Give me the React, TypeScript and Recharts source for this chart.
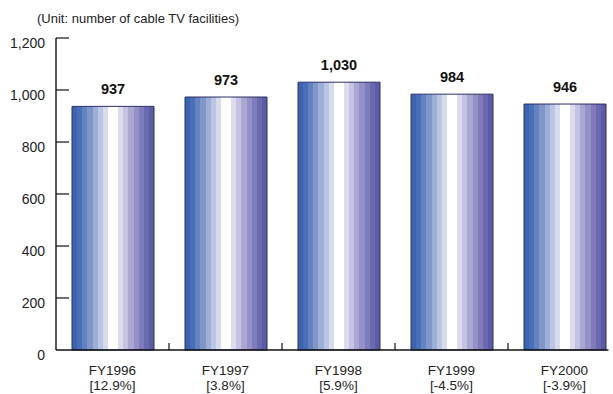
import { Bar, BarChart, LabelList, XAxis, YAxis } from "recharts"

const years = ["FY1996", "FY1997", "FY1998", "FY1999", "FY2000"]
const growth = ["[12.9%]", "[3.8%]", "[5.9%]", "[-4.5%]", "[-3.9%]"]
const facilities = [937, 973, 1030, 984, 946]
const yTicks = [0, 200, 400, 600, 800, 1000, 1200]

const data = years.map((year, i) => ({ year, growth: growth[i], value: facilities[i] }))

// horizontal stripes, left to right
const stripes = [
  "#3a64b2", "#4a6fb6", "#6382c0", "#7f96c9", "#9dafd6", "#bac6e3", "#d5dcee",
  "#ffffff", "#ffffff",
  "#dcdcee", "#c4c3e1", "#aaa8d3", "#9391c6", "#7e7cba", "#6b69af", "#5c5ba6",
]

const BAND = 113
const font = "'Liberation Sans', Arial, sans-serif"

const fmt = (v: number) => v.toLocaleString("en-US")

const XTick = (props: any) => {
  const { x, y, payload, index } = props
  const last = index === years.length - 1
  const d = data[index] || data.find((r) => r.year === payload.value)
  return (
    <g>
      <line x1={x - BAND / 2} x2={last ? x + 44 : x + BAND / 2} y1={y} y2={y} stroke="#111" strokeWidth={1.4} />
      {!last && <line x1={x + BAND / 2} x2={x + BAND / 2} y1={y} y2={y - 7} stroke="#111" strokeWidth={1.2} />}
      <text x={x} y={y + 25} textAnchor="middle" fontSize={13.5} fill="#222" fontFamily={font}>
        {payload.value}
      </text>
      <text x={x} y={y + 40} textAnchor="middle" fontSize={13.5} fill="#222" fontFamily={font}>
        {d ? d.growth : ""}
      </text>
    </g>
  )
}

const YTick = (props: any) => {
  const { x, y, payload } = props
  return (
    <g>
      {payload.value !== 0 && <line x1={x} x2={x + 13} y1={y} y2={y} stroke="#111" strokeWidth={1.2} />}
      <text x={x - 11} y={y + 10} textAnchor="end" fontSize={14} fill="#222" fontFamily={font}>
        {fmt(payload.value)}
      </text>
    </g>
  )
}

const TopLabel = (props: any) => {
  const { x, y, width, value } = props
  return (
    <text x={x + width / 2} y={y - 12} textAnchor="middle" fontSize={14.5} fontWeight="bold" fill="#111" fontFamily={font}>
      {fmt(value)}
    </text>
  )
}

export default function App() {
  return (
    <div style={{ position: "absolute", left: 0, top: 0, width: 613, height: 394, overflow: "hidden", background: "#fff" }}>
      <div style={{ position: "absolute", left: 37, top: 11, fontSize: 13, fontFamily: font, color: "#222" }}>
        (Unit: number of cable TV facilities)
      </div>
      <BarChart width={625} height={394} data={data} margin={{ top: 38, right: 4, bottom: 0, left: 0 }}>
        <defs>
          <linearGradient id="stripes" x1="0" y1="0" x2="1" y2="0">
            {stripes.flatMap((c, i) => [
              <stop key={i + "a"} offset={i / stripes.length} stopColor={c} />,
              <stop key={i + "b"} offset={(i + 1) / stripes.length} stopColor={c} />,
            ])}
          </linearGradient>
        </defs>
        <XAxis
          dataKey="year"
          axisLine={false}
          tickLine={false}
          tickSize={0}
          tickMargin={0}
          height={44}
          interval={0}
          tick={XTick}
        />
        <YAxis
          domain={[0, 1200]}
          ticks={yTicks}
          width={56}
          axisLine={{ stroke: "#111", strokeWidth: 1.4 }}
          tickLine={false}
          tickSize={0}
          tickMargin={0}
          interval={0}
          tick={YTick}
        />
        <Bar dataKey="value" barSize={82} fill="url(#stripes)" stroke="#2b2f66" strokeWidth={1} isAnimationActive={false}>
          <LabelList dataKey="value" content={TopLabel} />
        </Bar>
      </BarChart>
    </div>
  )
}
